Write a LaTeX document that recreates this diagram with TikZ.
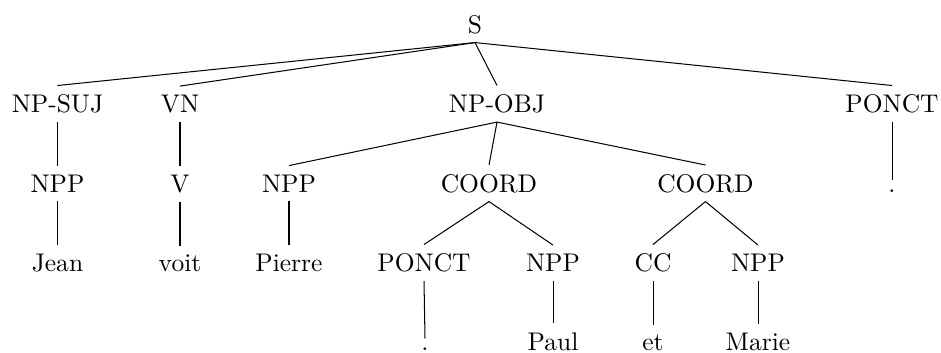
\documentclass[tikz,border=0pt]{standalone}
\usepackage{tikz}

\tikzset{every picture/.style={line width=0.4pt}}
\tikzset{cat/.style={anchor=base,inner sep=3.33pt}}

\begin{document}
\begin{tikzpicture}[x=0.392pt,y=0.392pt,yscale=-1,xscale=1]
\useasboundingbox (0,0) rectangle (941,352);

%Root
\draw (475,33) node [cat] (s) {S};

%Level 1
\draw (57.5,112.5) node [cat] (npsuj) {NP-SUJ};
\draw (180,112.5) node [cat] (vn) {VN};
\draw (497,112.5) node [cat] (npobj) {NP-OBJ};
\draw (892,112.5) node [cat] (ponct) {PONCT};

%Level 2
\draw (57.5,192) node [cat] (npp1) {NPP};
\draw (180,192) node [cat] (v) {V};
\draw (289,192) node [cat] (npp2) {NPP};
\draw (489,192) node [cat] (coord1) {COORD};
\draw (705.5,192) node [cat] (coord2) {COORD};
\draw (892,192) node [cat] (pt1) {.};

%Level 3
\draw (57.5,271.5) node [cat] (jean) {Jean};
\draw (180,271.5) node [cat] (voit) {voit};
\draw (289,271.5) node [cat] (pierre) {Pierre};
\draw (424,271.5) node [cat] (ponct2) {PONCT};
\draw (553,271.5) node [cat] (npp3) {NPP};
\draw (653,271.5) node [cat] (cc) {CC};
\draw (758,271.5) node [cat] (npp4) {NPP};

%Level 4
\draw (425,350) node [cat] (pt2) {.};
\draw (553,350) node [cat] (paul) {Paul};
\draw (653,350) node [cat] (et) {et};
\draw (758,350) node [cat] (marie) {Marie};

%Straight Lines
\draw (s.south) -- (npsuj.north) ;
\draw (s.south) -- (vn.north) ;
\draw (s.south) -- (npobj.north) ;
\draw (s.south) -- (ponct.north) ;
\draw (npsuj.south) -- (npp1.north) ;
\draw (vn.south) -- (v.north) ;
\draw (npobj.south) -- (npp2.north) ;
\draw (npobj.south) -- (coord1.north) ;
\draw (npobj.south) -- (coord2.north) ;
\draw (ponct.south) -- (pt1.north) ;
\draw (npp1.south) -- (jean.north) ;
\draw (v.south) -- (voit.north) ;
\draw (npp2.south) -- (pierre.north) ;
\draw (coord1.south) -- (ponct2.north) ;
\draw (coord1.south) -- (npp3.north) ;
\draw (coord2.south) -- (cc.north) ;
\draw (coord2.south) -- (npp4.north) ;
\draw (ponct2.south) -- (pt2.north) ;
\draw (npp3.south) -- (paul.north) ;
\draw (cc.south) -- (et.north) ;
\draw (npp4.south) -- (marie.north) ;

\end{tikzpicture}
\end{document}
